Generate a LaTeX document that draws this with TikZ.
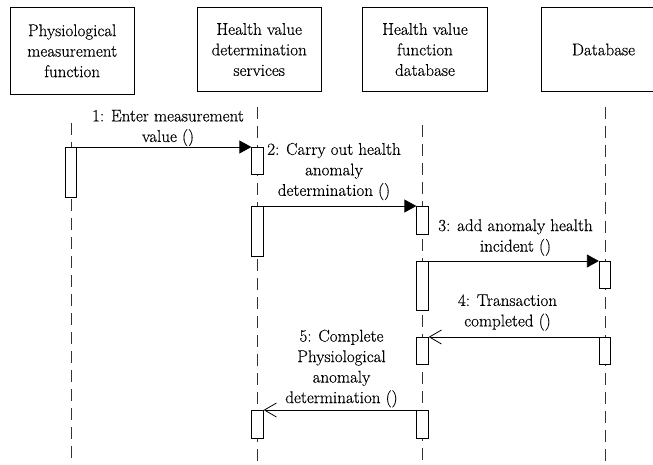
\documentclass[tikz,border=0pt]{standalone}
\usepackage{fontspec}
\newfontfamily\lmfont[FakeBold=0.35]{Latin Modern Roman}
\usetikzlibrary{arrows.meta}
\begin{document}
\begin{tikzpicture}[x=1pt,y=-1pt,
 every node/.style={font=\lmfont\fontsize{17}{20.5}\selectfont},
 actor/.style={draw, line width=0.8pt, inner sep=0pt, align=center, minimum width=124.5pt},
 life/.style={draw=black!80, line width=0.8pt, dash pattern=on 12pt off 7pt},
 bar/.style={draw, fill=white, line width=0.8pt, minimum width=11.5pt, inner sep=0pt, anchor=north},
 call/.style={line width=0.8pt, -{Triangle[length=12pt,width=13pt]}},
 reply/.style={line width=0.8pt, -{Straight Barb[length=12pt,width=14pt]}},
 lbl/.style={align=center, inner sep=0pt}
]
\useasboundingbox (0,0) rectangle (653,465);
\clip (0,0) rectangle (653,465);

% actors
\node[actor, minimum height=87pt] (pm) at (72.2,50.8) {Physiological\\measurement\\function};
\node[actor, minimum height=84.4pt] (hs) at (259.2,49.5) {Health value\\determination\\services};
\node[actor, minimum height=84.4pt] (hf) at (425,49.5) {Health value\\function\\database};
\node[actor, minimum height=84.4pt] (db) at (603.5,49.5) {Database};

% lifelines
\coordinate (l1t) at (71,123);   \coordinate (l1b) at (71,466);
\coordinate (l2t) at (257.5,107); \coordinate (l2b) at (257.5,466);
\coordinate (l3t) at (422.5,125); \coordinate (l3b) at (422.5,466);
\coordinate (l4t) at (605,107);   \coordinate (l4b) at (605,466);
\draw[life] (l1t) -- (l1b);
\draw[life] (l2t) -- (l2b);
\draw[life] (l3t) -- (l3b);
\draw[life] (l4t) -- (l4b);

% activation bars
\node[bar, minimum height=50pt] (a1) at (71,147) {};
\node[bar, minimum height=27pt] (b1) at (257.5,147) {};
\node[bar, minimum height=50pt] (b2) at (257.5,206) {};
\node[bar, minimum height=28pt] (c1) at (422.5,206) {};
\node[bar, minimum height=49pt] (c2) at (422.5,261) {};
\node[bar, minimum height=27pt] (d1) at (605,261) {};
\node[bar, minimum height=27pt] (c3) at (422.5,337) {};
\node[bar, minimum height=27pt] (d2) at (605,337) {};
\node[bar, minimum height=28pt] (b3) at (257.5,410) {};
\node[bar, minimum height=28pt] (c4) at (422.5,410) {};

% messages
\draw[call] (a1.north east) -- (b1.north west);
\draw[call] (b2.north east) -- (c1.north west);
\draw[call] (c2.north east) -- (d1.north west);
\draw[reply] (d2.north west) -- (c3.north east);
\draw[reply] (c4.north west) -- (b3.north east);

% labels
\node[lbl] (m1) at (168,128) {1: Enter measurement\\value ()};
\node[lbl] (m2) at (334,171.5) {2: Carry out health\\anomaly\\determination ()};
\node[lbl] (m3) at (515.5,237.5) {3: add anomaly health\\incident ()};
\node[lbl] (m4) at (507.5,312.5) {4: Transaction\\completed ()};
\node[lbl] (m5) at (341.5,368.5) {5: Complete\\Physiological\\anomaly\\determination ()};
\end{tikzpicture}
\end{document}
